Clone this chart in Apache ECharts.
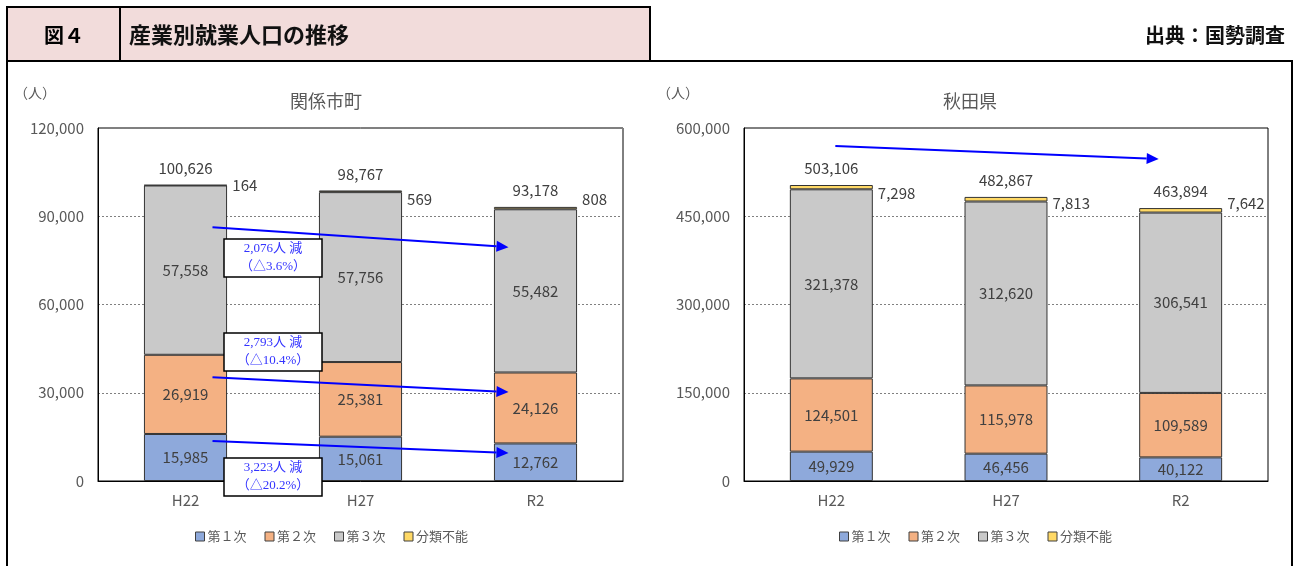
<!DOCTYPE html>
<html lang="ja">
<head>
<meta charset="utf-8">
<script src="https://cdn.jsdelivr.net/npm/echarts@6/dist/echarts.min.js"></script>
<style>
  html, body { margin: 0; padding: 0; background: #fff; }
  #main { width: 1293px; height: 566px; }
</style>
</head>
<body>
<div id="main"></div>
<script type="text/javascript">
// ---- data ----
var years = ['H22', 'H27', 'R2'];
var seriesNames = ['第１次', '第２次', '第３次', '分類不能'];

// 関係市町
var cityPrimary   = [15985, 15061, 12762];
var citySecondary = [26919, 25381, 24126];
var cityTertiary  = [57558, 57756, 55482];
var cityUnknown   = [164, 569, 808];
var cityTotal     = [100626, 98767, 93178];

// 秋田県
var prefPrimary   = [49929, 46456, 40122];
var prefSecondary = [124501, 115978, 109589];
var prefTertiary  = [321378, 312620, 306541];
var prefUnknown   = [7298, 7813, 7642];
var prefTotal     = [503106, 482867, 463894];

var cityAxis = [0, 120000, 30000];
var prefAxis = [0, 600000, 150000];

// 増減の注記
var cityNotes = [
  ['2,076人 減', '（△3.6%）'],
  ['2,793人 減', '（△10.4%）'],
  ['3,223人 減', '（△20.2%）']
];

// ---- layout / style ----
var colors = ['#8EA9DB', '#F4B183', '#C9C9C9', '#FFD966'];
var FONT = '"Noto Sans CJK JP", "Noto Sans", sans-serif';
var NOTE_FONT = '13px "Liberation Serif", "Noto Sans CJK JP", serif';
var TEXT = '#404040';
var AXIS_TEXT = '#595959';

// arrow anchors (value axis) and box anchors
var cityArrows = [[86300, 79500], [35300, 30250], [13600, 9500]];
var cityBoxes = [75800, 43850, 1360];
var prefArrows = [[569400, 547300]];
var unknownOffsetCity = [0, 8, -9];
var unknownOffsetPref = [6, 4, -7];

function fmt(v) {
  return String(v).replace(/\B(?=(\d{3})+(?!\d))/g, ',');
}

function buildSeries(idx, parts, totals, offs) {
  var list = parts.map(function (arr, k) {
    var isUnknown = k === 3;
    return {
      name: seriesNames[k],
      type: 'bar',
      stack: 'g' + idx,
      xAxisIndex: idx,
      yAxisIndex: idx,
      barWidth: '47.5%',
      itemStyle: { color: colors[k], borderColor: '#333', borderWidth: 1 },
      label: {
        show: true,
        position: isUnknown ? 'right' : 'inside',
        distance: 5,
        color: TEXT,
        fontSize: 15,
        fontFamily: FONT,
        formatter: function (p) { return fmt(p.value); }
      },
      data: arr.map(function (v, i) {
        if (!isUnknown) return v;
        return { value: v, label: { offset: [0, offs[i]] } };
      }),
      silent: true
    };
  });
  list.push({
    name: 'total' + idx,
    type: 'scatter',
    xAxisIndex: idx,
    yAxisIndex: idx,
    symbolSize: 0,
    itemStyle: { opacity: 1 },
    label: {
      show: true,
      position: 'top',
      distance: 9,
      color: TEXT,
      fontSize: 15,
      fontFamily: FONT,
      formatter: function (p) { return fmt(p.value); }
    },
    data: totals,
    silent: true,
    z: 5
  });
  return list;
}

function axisPair(idx, ax) {
  return {
    x: {
      type: 'category', gridIndex: idx, data: years,
      axisLine: { lineStyle: { color: '#000', width: 1 } },
      axisTick: { show: false },
      axisLabel: { color: AXIS_TEXT, fontSize: 15, fontFamily: FONT, margin: 12 }
    },
    y: {
      type: 'value', gridIndex: idx, min: ax[0], max: ax[1], interval: ax[2],
      axisLine: { show: true, lineStyle: { color: '#000', width: 1 } },
      axisTick: { show: false },
      axisLabel: { color: AXIS_TEXT, fontSize: 15, fontFamily: FONT, margin: 14,
        formatter: function (v) { return fmt(v); } },
      splitLine: { lineStyle: { color: '#808080', type: [2, 2], width: 1 } }
    }
  };
}

var a0 = axisPair(0, cityAxis), a1 = axisPair(1, prefAxis);

var legendBase = {
  data: seriesNames,
  selectedMode: false,
  itemWidth: 9,
  itemHeight: 9,
  itemGap: 18,
  icon: 'rect',
  textStyle: { color: AXIS_TEXT, fontSize: 13, fontFamily: FONT, padding: [0, 0, 0, -2] },
  itemStyle: { borderColor: '#404040', borderWidth: 1 },
  top: 525
};

var option = {
  backgroundColor: '#fff',
  animation: false,
  grid: [
    { left: 98, top: 128, width: 525, height: 353, show: true, borderColor: '#000', borderWidth: 1 },
    { left: 744, top: 128, width: 524, height: 353, show: true, borderColor: '#000', borderWidth: 1 }
  ],
  xAxis: [a0.x, a1.x],
  yAxis: [a0.y, a1.y],
  legend: [
    Object.assign({}, legendBase, { left: 190 }),
    Object.assign({}, legendBase, { left: 834 })
  ],
  series: buildSeries(0, [cityPrimary, citySecondary, cityTertiary, cityUnknown], cityTotal, unknownOffsetCity)
    .concat(buildSeries(1, [prefPrimary, prefSecondary, prefTertiary, prefUnknown], prefTotal, unknownOffsetPref))
};

var chart = echarts.init(document.getElementById('main'), null, { renderer: 'canvas' });
chart.setOption(option);

// ---- header, frame and annotations ----
function px(idx, cat, v) {
  return chart.convertToPixel({ xAxisIndex: idx, yAxisIndex: idx }, [cat, v]);
}

function arrow(p1, p2) {
  var ang = Math.atan2(p2[1] - p1[1], p2[0] - p1[0]);
  var len = 12, half = 5.5;
  var bx = p2[0] - len * Math.cos(ang), by = p2[1] - len * Math.sin(ang);
  var nx = -Math.sin(ang) * half, ny = Math.cos(ang) * half;
  return [
    { type: 'line', z: 100, shape: { x1: p1[0], y1: p1[1], x2: bx, y2: by },
      style: { stroke: '#0000FF', lineWidth: 2 } },
    { type: 'polygon', z: 100, shape: { points: [[p2[0], p2[1]], [bx + nx, by + ny], [bx - nx, by - ny]] },
      style: { fill: '#0000FF' } }
  ];
}

var g = [];
// header
g.push({ type: 'rect', z: 50, shape: { x: 7, y: 7, width: 643, height: 54 },
  style: { fill: '#F2DCDB', stroke: '#000', lineWidth: 2 } });
g.push({ type: 'line', z: 51, shape: { x1: 120, y1: 7, x2: 120, y2: 61 },
  style: { stroke: '#000', lineWidth: 2 } });
g.push({ type: 'text', z: 52, style: { text: '図４', x: 64, y: 35, align: 'center', verticalAlign: 'middle',
  font: 'bold 20px ' + FONT, fill: '#000' } });
g.push({ type: 'text', z: 52, style: { text: '産業別就業人口の推移', x: 129, y: 35, verticalAlign: 'middle',
  font: 'bold 22px ' + FONT, fill: '#111' } });
g.push({ type: 'text', z: 52, style: { text: '出典：国勢調査', x: 1285, y: 35, align: 'right', verticalAlign: 'middle',
  font: 'bold 20px ' + FONT, fill: '#111' } });
// outer frame
g.push({ type: 'rect', z: 49, shape: { x: 7, y: 61, width: 1285, height: 540 },
  style: { fill: 'none', stroke: '#000', lineWidth: 2 } });
// chart titles and units
g.push({ type: 'text', z: 52, style: { text: '関係市町', x: 326, y: 101, align: 'center', verticalAlign: 'middle',
  font: '18px ' + FONT, fill: AXIS_TEXT } });
g.push({ type: 'text', z: 52, style: { text: '秋田県', x: 970, y: 101, align: 'center', verticalAlign: 'middle',
  font: '18px ' + FONT, fill: AXIS_TEXT } });
g.push({ type: 'text', z: 52, style: { text: '（人）', x: 14, y: 93, verticalAlign: 'middle',
  font: '14px ' + FONT, fill: AXIS_TEXT } });
g.push({ type: 'text', z: 52, style: { text: '（人）', x: 657, y: 93, verticalAlign: 'middle',
  font: '14px ' + FONT, fill: AXIS_TEXT } });

// arrows 関係市町
cityArrows.forEach(function (a) {
  var s = px(0, years[0], a[0]), e = px(0, years[2], a[1]);
  g = g.concat(arrow([s[0] + 27, s[1]], [e[0] - 27, e[1]]));
});
// arrow 秋田県
prefArrows.forEach(function (a) {
  var s = px(1, years[0], a[0]), e = px(1, years[2], a[1]);
  g = g.concat(arrow([s[0] + 4, s[1]], [e[0] - 22, e[1]]));
});
// note boxes
cityBoxes.forEach(function (v, i) {
  var l = px(0, years[0], v), r = px(0, years[1], v);
  var cx = (l[0] + r[0]) / 2, cy = l[1];
  g.push({ type: 'rect', z: 110, shape: { x: cx - 49, y: cy - 19, width: 98, height: 38 },
    style: { fill: '#fff', stroke: '#000', lineWidth: 1.5 } });
  g.push({ type: 'text', z: 111, style: { text: cityNotes[i][0], x: cx, y: cy - 9, align: 'center', verticalAlign: 'middle',
    font: NOTE_FONT, fill: '#3333FF' } });
  g.push({ type: 'text', z: 111, style: { text: cityNotes[i][1], x: cx, y: cy + 9, align: 'center', verticalAlign: 'middle',
    font: NOTE_FONT, fill: '#3333FF' } });
});

chart.setOption({ graphic: { elements: g } });

window.addEventListener('resize', function () { chart.resize(); });
</script>
</body>
</html>
